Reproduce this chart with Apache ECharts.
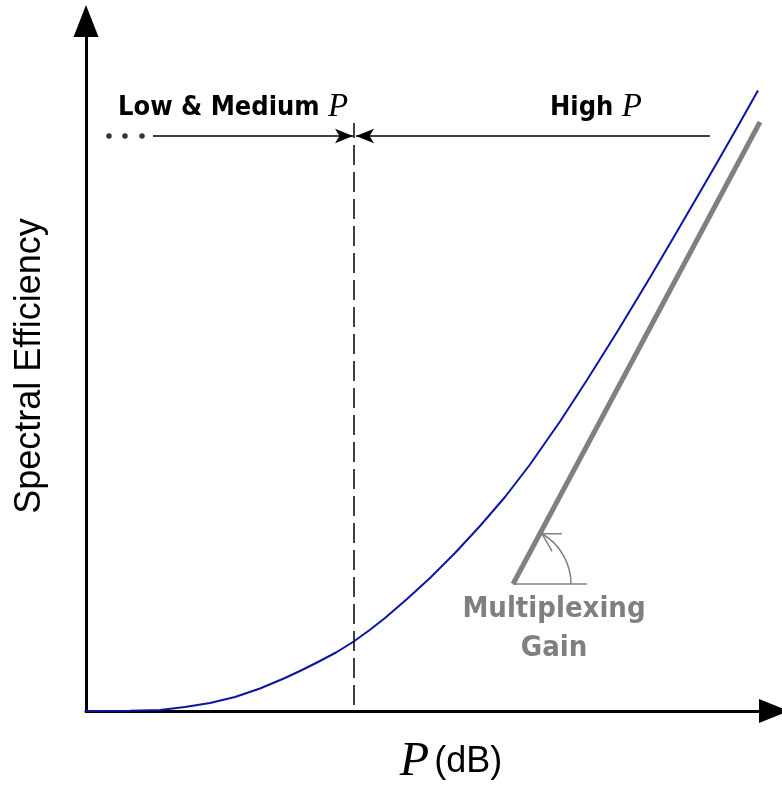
<!DOCTYPE html>
<html>
<head>
<meta charset="utf-8">
<script src="https://cdn.jsdelivr.net/npm/echarts@6/dist/echarts.min.js"></script>
<style>html,body{margin:0;padding:0;background:#fff}#c{width:782px;height:787px}</style>
</head>
<body>
<div id="c"></div>
<script>
// Blue spectral-efficiency curve (x = P in arbitrary dB units, y = spectral efficiency)
const pCurve  = [0, 4.4, 7.4, 9.9, 12.4, 14.9, 17.4, 19.9, 21.5, 23.2, 25.0, 26.7, 28.3, 29.9, 32.1, 34.4, 36.9, 39.4, 41.9, 44.4, 47.4, 50.1, 53.2, 56.4, 58.9, 61.4, 63.2, 65.2, 67.2];
const seCurve = [0, 0.02, 0.1, 0.4, 0.8, 1.4, 2.25, 3.3, 4.05, 4.9, 5.85, 6.9, 8.05, 9.3, 11.2, 13.3, 15.8, 18.5, 21.4, 24.65, 28.95, 33.1, 38.05, 43.35, 47.6, 51.9, 55.0, 58.5, 62.05];
// Grey asymptote (multiplexing gain slope)
const gainX = [42.7, 67.4];
const gainY = [12.7, 58.9];
// Regime boundary and annotation levels
const boundaryX = 26.8;
const boundaryY = [0.6, 58.8];
const arrowY = 57.5;
const lowArrowX = [6.7, 26.7];
const highArrowX = [62.4, 27.0];
const dotsX = [2.3, 3.9, 5.6];
const angleBaseX = [42.7, 50.1];
const angleBaseY = 12.7;

const blue = '#0a16a0', grey = '#808080';
const comic = '"Liberation Sans Narrow", "DejaVu Sans Condensed", "DejaVu Sans", sans-serif';
const serifP = {fontFamily: '"Liberation Serif", serif', fontStyle: 'italic', fontWeight: 'normal', fontSize: 33, color: '#000'};

const chart = echarts.init(document.getElementById('c'));
chart.setOption({
  animation: false,
  backgroundColor: '#fff',
  grid: {left: 86, right: 8, top: 21, bottom: 76},
  xAxis: {
    type: 'value', min: 0, max: 68.8,
    axisLine: {lineStyle: {color: '#000', width: 3}, symbol: ['none', 'triangle'], symbolSize: [24, 30]},
    axisTick: {show: false}, axisLabel: {show: false}, splitLine: {show: false}
  },
  yAxis: {
    type: 'value', min: 0, max: 69,
    name: 'Spectral Efficiency', nameLocation: 'middle', nameGap: 38,
    nameTextStyle: {fontFamily: '"Liberation Sans", Arial, sans-serif', fontSize: 36, color: '#000'},
    axisLine: {lineStyle: {color: '#000', width: 3}, symbol: ['none', 'triangle'], symbolSize: [25, 32]},
    axisTick: {show: false}, axisLabel: {show: false}, splitLine: {show: false}
  },
  title: [
    {text: '{a|Low & Medium }{p|P}', left: 113, top: 86,
      textStyle: {rich: {
        a: {fontFamily: comic, fontWeight: 'bold', fontSize: 27, color: '#000'},
        p: serifP}}},
    {text: '{a|High }{p|P}', left: 545, top: 86,
      textStyle: {rich: {
        a: {fontFamily: comic, fontWeight: 'bold', fontSize: 27, color: '#000'},
        p: serifP}}},
    {text: 'Multiplexing\nGain', left: 549, top: 585, textAlign: 'center',
      textStyle: {fontFamily: comic, fontWeight: 'bold', fontSize: 29, lineHeight: 39, color: grey}},
    {text: '{p|P} {d|(dB)}', left: 446, top: 733, textAlign: 'center',
      textStyle: {rich: {
        p: {fontFamily: '"Liberation Serif", serif', fontStyle: 'italic', fontWeight: 'normal', fontSize: 48, color: '#000'},
        d: {fontFamily: '"Liberation Sans", Arial, sans-serif', fontWeight: 'normal', fontSize: 36, color: '#000'}}}}
  ],
  series: [
    {type: 'line', data: pCurve.map((x, i) => [x, seCurve[i]]), showSymbol: false, smooth: false,
      lineStyle: {color: blue, width: 2, join: 'round'}, z: 3},
    {type: 'line', data: gainX.map((x, i) => [x, gainY[i]]), showSymbol: false,
      lineStyle: {color: grey, width: 5}, z: 3},
    {type: 'line', data: boundaryY.map(y => [boundaryX, y]), showSymbol: false,
      lineStyle: {color: '#000', width: 1.5, type: [20, 7]}},
    {type: 'line', data: angleBaseX.map(x => [x, angleBaseY]), showSymbol: false,
      lineStyle: {color: grey, width: 1.5}},
    {type: 'scatter', data: dotsX.map(x => [x, arrowY]), symbolSize: 5.5, itemStyle: {color: '#000'}},
    {type: 'line', data: [], markLine: {
      silent: true, symbol: ['none', 'arrow'], symbolSize: [11, 18], label: {show: false},
      lineStyle: {color: '#000', width: 1.5, type: 'solid'},
      data: [
        [{coord: [lowArrowX[0], arrowY]}, {coord: [lowArrowX[1], arrowY]}],
        [{coord: [highArrowX[0], arrowY]}, {coord: [highArrowX[1], arrowY]}]
      ]}},
    {type: 'custom', data: [[angleBaseX[0], angleBaseY]],
      renderItem: function (params, api) {
        const c = api.coord([api.value(0), api.value(1)]);
        const r = 58, a0 = -60 * Math.PI / 180;
        const tip = [c[0] + r * Math.cos(a0), c[1] + r * Math.sin(a0)];
        return {type: 'group', children: [
          {type: 'arc', shape: {cx: c[0], cy: c[1], r: r, startAngle: a0, endAngle: 0, clockwise: true},
            style: {stroke: grey, lineWidth: 1.5, fill: null}},
          {type: 'polyline', shape: {points: [[tip[0] + 20, tip[1]], tip, [tip[0] + 10, tip[1] + 17.3]]},
            style: {stroke: grey, lineWidth: 1.5, fill: null}}
        ]};
      }}
  ]
});
</script>
</body>
</html>
